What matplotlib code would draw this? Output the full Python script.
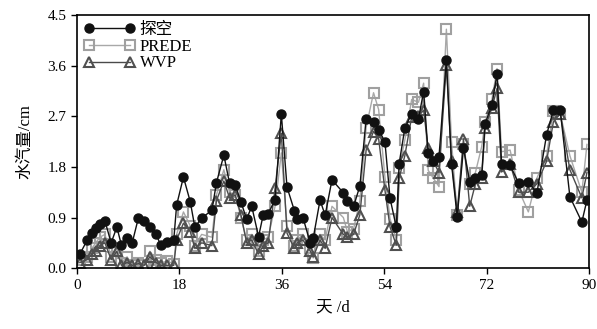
import numpy as np
import matplotlib
matplotlib.use("Agg")
import matplotlib.pyplot as plt

plt.rcParams['font.family'] = ['Liberation Serif', 'Noto Sans CJK SC']

# === DATOS ===
day = [0.5, 1.8, 2.6, 3.3, 4.0, 4.9, 6.0, 7.0, 7.8, 8.8, 9.7, 10.8, 11.8, 12.8,
       13.9, 14.7, 15.8, 17.0, 17.5, 18.7, 19.9, 20.7, 21.9, 23.7, 24.5, 25.8,
       26.8, 27.8, 28.8, 29.8, 30.7, 31.9, 32.7, 33.6, 34.8, 35.9, 36.9, 38.2,
       38.7, 39.7, 41.0, 41.5, 42.7, 43.6, 44.8, 46.8, 47.5, 48.6, 49.7, 50.8,
       52.1, 53.0, 54.1, 55.0, 56.1, 56.6, 57.6, 58.8, 60.0, 60.9, 61.7, 62.6,
       63.6, 64.9, 65.8, 66.8, 67.9, 69.0, 70.0, 71.1, 71.7, 72.9, 73.8, 74.6,
       76.1, 77.6, 79.3, 80.8, 82.5, 83.7, 84.9, 86.6, 88.7, 89.6]

tankong = [0.25, 0.50, 0.62, 0.71, 0.78, 0.84, 0.45, 0.73, 0.41, 0.53, 0.45, 0.90,
           0.84, 0.73, 0.60, 0.41, 0.47, 0.50, 1.12, 1.62, 1.18, 0.73, 0.89, 1.03,
           1.52, 2.01, 1.51, 1.48, 1.18, 0.87, 1.10, 0.56, 0.94, 0.97, 1.22, 2.74,
           1.44, 1.02, 0.88, 0.90, 0.44, 0.53, 1.21, 0.94, 1.57, 1.34, 1.20, 1.10,
           1.46, 2.66, 2.60, 2.46, 2.25, 1.24, 0.73, 1.86, 2.49, 2.75, 2.66, 3.14,
           2.04, 1.90, 1.98, 3.71, 1.86, 0.91, 2.13, 1.54, 1.60, 1.65, 2.57, 2.90,
           3.46, 1.86, 1.83, 1.51, 1.54, 1.33, 2.37, 2.81, 2.81, 1.27, 0.82, 1.21]

prede = [0.15, 0.20, 0.35, 0.45, 0.55, 0.60, 0.20, 0.35, 0.10, 0.20, 0.05, 0.10,
         0.05, 0.30, 0.15, 0.10, 0.12, 0.08, 0.60, 1.00, 0.75, 0.40, 0.60, 0.55,
         1.30, 1.75, 1.35, 1.30, 0.90, 0.50, 0.60, 0.30, 0.50, 0.55, 1.10, 2.05,
         0.75, 0.40, 0.50, 0.60, 0.35, 0.18, 0.60, 0.50, 1.10, 0.90, 0.65, 0.70,
         1.20, 2.50, 3.12, 2.82, 1.62, 0.88, 0.50, 1.78, 2.28, 3.00, 2.95, 3.29,
         1.74, 1.60, 1.45, 4.25, 2.25, 0.95, 2.20, 1.50, 1.70, 2.16, 2.60, 3.00,
         3.55, 2.07, 2.10, 1.39, 1.00, 1.60, 2.00, 2.80, 2.75, 2.00, 1.35, 2.20]

wvp = [0.10, 0.15, 0.25, 0.30, 0.40, 0.45, 0.15, 0.30, 0.05, 0.10, 0.05, 0.08,
       0.05, 0.20, 0.10, 0.05, 0.05, 0.05, 0.50, 0.80, 0.65, 0.35, 0.45, 0.40,
       1.20, 1.55, 1.25, 1.30, 0.95, 0.45, 0.50, 0.25, 0.40, 0.45, 1.42, 2.40,
       0.62, 0.35, 0.45, 0.50, 0.30, 0.20, 0.50, 0.35, 0.90, 0.60, 0.55, 0.60,
       0.95, 2.10, 2.43, 2.30, 1.39, 0.73, 0.41, 1.60, 2.00, 2.69, 2.70, 2.81,
       2.13, 1.90, 1.70, 3.62, 1.90, 1.00, 2.30, 1.10, 1.50, 1.60, 2.50, 2.85,
       3.20, 1.71, 1.85, 1.35, 1.35, 1.50, 1.90, 2.60, 2.75, 1.75, 1.25, 1.70]

x_ticks = [0, 18, 36, 54, 72, 90]
y_ticks = [0.0, 0.9, 1.8, 2.7, 3.6, 4.5]

fig = plt.figure(figsize=(5.97, 3.29), dpi=100)
ax = fig.add_axes([0.129, 0.185, 0.858, 0.769])

ax.plot(day, tankong, '-o', color='#111111', lw=1.0, ms=6.5,
        mfc='#111111', mec='#111111', label='探空', zorder=3)
ax.plot(day, prede, '-s', color='#a8a8a8', lw=1.0, ms=6.5,
        mfc='none', mec='#a0a0a0', mew=1.5, label='PREDE', zorder=1)
ax.plot(day, wvp, '-^', color='#4a4a4a', lw=1.0, ms=6.5,
        mfc='none', mec='#505050', mew=1.5, label='WVP', zorder=2)

ax.set_xlim(0, 90)
ax.set_ylim(0, 4.5)
ax.set_xticks(x_ticks)
ax.set_yticks(y_ticks)
ax.set_yticklabels([f"{v:.1f}" for v in y_ticks])
ax.tick_params(direction='out', length=4, width=1.0, labelsize=11,
               top=False, right=False)
for s in ax.spines.values():
    s.set_linewidth(1.2)

ax.set_xlabel("天 /d", fontsize=12, labelpad=6)
ax.set_ylabel("水汽量/cm", fontsize=12, labelpad=10)

ax.legend(loc='upper left', frameon=False, fontsize=12, numpoints=2,
          handlelength=3.1, handletextpad=0.25, labelspacing=0.05,
          borderaxespad=0.3, borderpad=0.1)

fig.savefig("out.png", dpi=100)
